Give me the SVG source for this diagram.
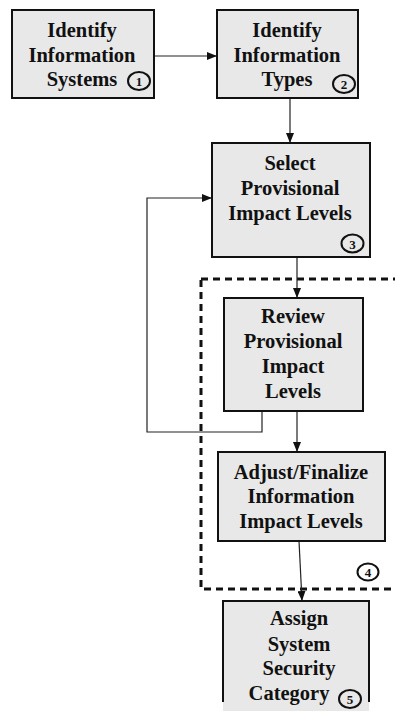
<svg xmlns="http://www.w3.org/2000/svg" width="395" height="713" viewBox="0 0 395 713">
<defs>
<style>
.box{fill:#e8e8e8;stroke:#111;stroke-width:2}
.c{fill:none;stroke:#111;stroke-width:2}
.ln{fill:none;stroke:#222;stroke-width:1.2}
.dash{fill:none;stroke:#111;stroke-width:3;stroke-dasharray:7,5}
</style>
<marker id="ah" markerWidth="10" markerHeight="8" refX="10" refY="4" orient="auto" markerUnits="userSpaceOnUse">
<path d="M0,0 L10,4 L0,8 Z" fill="#111"/>
</marker>
</defs>
<rect width="395" height="713" fill="#fff"/>
<g id="group4">
<rect class="dash" x="201" y="279" width="210" height="310"/>
<ellipse class="c" cx="368" cy="572" rx="10.5" ry="8.5"/>
<text x="368" y="577" font-family="Liberation Serif" font-weight="bold" font-size="13" text-anchor="middle" fill="#111">4</text>
</g>
<g id="connectors">
<line class="ln" x1="154" y1="56" x2="217" y2="56" marker-end="url(#ah)"/>
<line class="ln" x1="290" y1="98" x2="290" y2="143" marker-end="url(#ah)"/>
<line class="ln" x1="297" y1="257" x2="297" y2="298" marker-end="url(#ah)"/>
<line class="ln" x1="297" y1="411" x2="297" y2="452" marker-end="url(#ah)"/>
<line class="ln" x1="299" y1="541" x2="302" y2="601" marker-end="url(#ah)"/>
<polyline class="ln" points="262,411 262,432 147,432 147,198 212,198" marker-end="url(#ah)"/>
</g>
<g id="node1">
<rect class="box" x="12" y="10" width="142" height="88"/>
<text x="82" y="37" font-family="Liberation Serif" font-weight="bold" font-size="20.5" text-anchor="middle" fill="#111">Identify</text>
<text x="82" y="62" font-family="Liberation Serif" font-weight="bold" font-size="20.5" text-anchor="middle" fill="#111">Information</text>
<text x="82" y="86" font-family="Liberation Serif" font-weight="bold" font-size="20.5" text-anchor="middle" fill="#111">Systems</text>
<ellipse class="c" cx="139" cy="81" rx="11" ry="9"/>
<text x="139" y="86" font-family="Liberation Serif" font-weight="bold" font-size="13" text-anchor="middle" fill="#111">1</text>
</g>
<g id="node2">
<rect class="box" x="217" y="10" width="141" height="88"/>
<text x="287" y="37" font-family="Liberation Serif" font-weight="bold" font-size="20.5" text-anchor="middle" fill="#111">Identify</text>
<text x="287" y="62" font-family="Liberation Serif" font-weight="bold" font-size="20.5" text-anchor="middle" fill="#111">Information</text>
<text x="287" y="86" font-family="Liberation Serif" font-weight="bold" font-size="20.5" text-anchor="middle" fill="#111">Types</text>
<ellipse class="c" cx="344" cy="84" rx="11" ry="9"/>
<text x="344" y="89" font-family="Liberation Serif" font-weight="bold" font-size="13" text-anchor="middle" fill="#111">2</text>
</g>
<g id="node3">
<rect class="box" x="212" y="143" width="158" height="114"/>
<text x="290" y="170" font-family="Liberation Serif" font-weight="bold" font-size="20.5" text-anchor="middle" fill="#111">Select</text>
<text x="290" y="195" font-family="Liberation Serif" font-weight="bold" font-size="20.5" text-anchor="middle" fill="#111">Provisional</text>
<text x="290" y="220" font-family="Liberation Serif" font-weight="bold" font-size="20.5" text-anchor="middle" fill="#111">Impact Levels</text>
<ellipse class="c" cx="352.5" cy="243.5" rx="11" ry="9"/>
<text x="352.5" y="248.5" font-family="Liberation Serif" font-weight="bold" font-size="13" text-anchor="middle" fill="#111">3</text>
</g>
<g id="node4a">
<rect class="box" x="224" y="298" width="139" height="113"/>
<text x="293" y="323" font-family="Liberation Serif" font-weight="bold" font-size="20.5" text-anchor="middle" fill="#111">Review</text>
<text x="293" y="348" font-family="Liberation Serif" font-weight="bold" font-size="20.5" text-anchor="middle" fill="#111">Provisional</text>
<text x="293" y="373" font-family="Liberation Serif" font-weight="bold" font-size="20.5" text-anchor="middle" fill="#111">Impact</text>
<text x="293" y="398" font-family="Liberation Serif" font-weight="bold" font-size="20.5" text-anchor="middle" fill="#111">Levels</text>
</g>
<g id="node4b">
<rect class="box" x="218" y="452" width="167" height="89"/>
<text x="301" y="479" font-family="Liberation Serif" font-weight="bold" font-size="20.5" text-anchor="middle" fill="#111">Adjust/Finalize</text>
<text x="301" y="503" font-family="Liberation Serif" font-weight="bold" font-size="20.5" text-anchor="middle" fill="#111">Information</text>
<text x="301" y="528" font-family="Liberation Serif" font-weight="bold" font-size="20.5" text-anchor="middle" fill="#111">Impact Levels</text>
</g>
<g id="node5">
<rect x="223" y="601" width="146" height="110" fill="#e8e8e8"/>
<path d="M223,702 L223,601 L369,601 L369,702" fill="none" stroke="#111" stroke-width="2"/>
<text x="299" y="625" font-family="Liberation Serif" font-weight="bold" font-size="20.5" text-anchor="middle" fill="#111">Assign</text>
<text x="299" y="651" font-family="Liberation Serif" font-weight="bold" font-size="20.5" text-anchor="middle" fill="#111">System</text>
<text x="299" y="675" font-family="Liberation Serif" font-weight="bold" font-size="20.5" text-anchor="middle" fill="#111">Security</text>
<text x="289" y="700" font-family="Liberation Serif" font-weight="bold" font-size="20.5" text-anchor="middle" fill="#111">Category</text>
<ellipse class="c" cx="350" cy="699" rx="11" ry="9"/>
<text x="350" y="704" font-family="Liberation Serif" font-weight="bold" font-size="13" text-anchor="middle" fill="#111">5</text>
</g>
</svg>
